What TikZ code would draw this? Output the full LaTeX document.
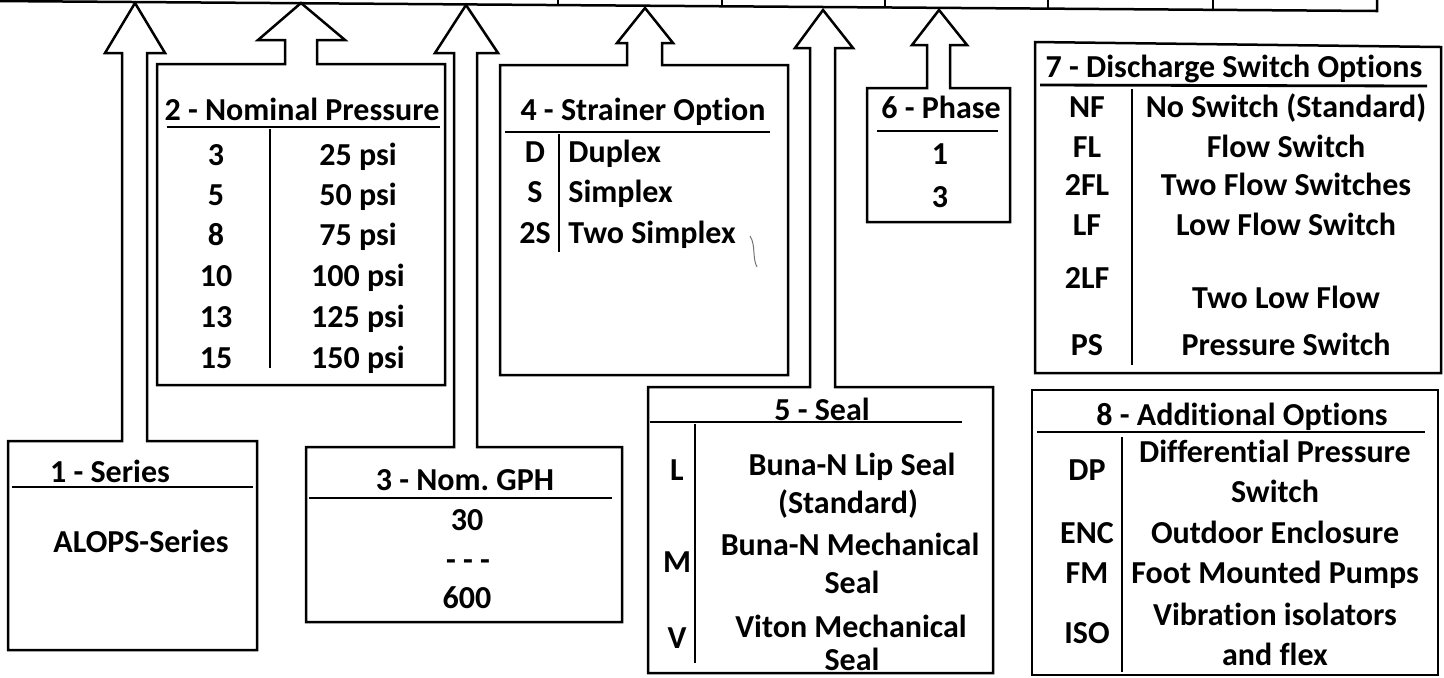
\documentclass[tikz,border=0pt]{standalone}
\usepackage{fontspec}
\setmainfont{Carlito}[Ligatures={NoCommon,NoRare,NoContextual}]
\begin{document}
\begin{tikzpicture}[x=0.5pt,y=-0.5pt,
  frame/.style={line width=1.25pt, line join=miter, draw=black},
  rule/.style={line width=1.4pt, draw=black},
  sep/.style={line width=1.1pt, draw=black},
  lbl/.style={anchor=base, inner sep=0pt, font=\fontsize{16pt}{19pt}\selectfont\bfseries, text=black},
  lblw/.style={lbl, anchor=base west}]
\useasboundingbox (0,0) rectangle (1444,677);
\fill[white] (0,0) rectangle (1444,677);

% top strip (cut-off row of boxes)
\draw[frame] (-5,1) -- (1377,11) -- (1377,-5);
\draw[sep] (558,-5) -- (558,5.05);
\draw[sep] (722,-5) -- (722,6.24);
\draw[sep] (885,-5) -- (885,7.43);
\draw[sep] (1048,-5) -- (1048,8.61);
\draw[sep] (1213,-5) -- (1213,9.81);

% box 1 + arrow 1
\draw[frame] (8,441) -- (122,441) -- (122,53) -- (105,53) -- (135,3) -- (165,53) -- (147,53) -- (147,441) -- (257,441) -- (257,650) -- (8,650) -- cycle;
\draw[rule] (12,487) -- (253,487);
\node[lbl] (s1t) at (110,482) {1 - Series};
\node[lbl] (s1v) at (141,552) {ALOPS-Series};

% box 2 + arrow 2
\draw[frame] (157,64) -- (285,64) -- (285,40) -- (258,40) -- (301,3) -- (345,40) -- (317,40) -- (317,64) -- (445,64) -- (445,385) -- (157,385) -- cycle;
\draw[rule] (167,127) -- (440,127);
\draw[sep] (270,129) -- (270,368);
\node[lbl] (s2t) at (302,120) {2 - Nominal Pressure};
\node[lbl] (s2c1) at (216,165) {3};   \node[lbl] (s2d1) at (358,165) {25 psi};
\node[lbl] (s2c2) at (216,205) {5};   \node[lbl] (s2d2) at (358,205) {50 psi};
\node[lbl] (s2c3) at (216,245) {8};   \node[lbl] (s2d3) at (358,245) {75 psi};
\node[lbl] (s2c4) at (216,286) {10};  \node[lbl] (s2d4) at (358,286) {100 psi};
\node[lbl] (s2c5) at (216,327) {13};  \node[lbl] (s2d5) at (358,327) {125 psi};
\node[lbl] (s2c6) at (216,368) {15};  \node[lbl] (s2d6) at (358,368) {150 psi};

% box 3 + arrow 3
\draw[frame] (306,447) -- (454,447) -- (454,53) -- (435,53) -- (466,5) -- (498,53) -- (477,53) -- (477,447) -- (622,447) -- (622,622) -- (306,622) -- cycle;
\draw[rule] (309,498) -- (612,498);
\node[lbl] (s3t) at (465,490) {3 - Nom.\ GPH};
\node[lbl] (s3a) at (467,530) {30};
\node[lbl] (s3b) at (468,570) {- - -};
\node[lbl] (s3c) at (467,608) {600};

% box 4 + arrow 4
\draw[frame] (500,65) -- (627,65) -- (627,43) -- (617,43) -- (645,8) -- (673,43) -- (662,43) -- (662,65) -- (788,65) -- (788,375) -- (500,375) -- cycle;
\draw[rule] (505,132) -- (770,132);
\draw[sep] (559,134) -- (559,252);
\node[lbl] (s4t) at (643,120) {4 - Strainer Option};
\node[lbl] (s4c1) at (535,162) {D};  \node[lblw] (s4d1) at (568,162) {Duplex};
\node[lbl] (s4c2) at (535,202) {S};  \node[lblw] (s4d2) at (568,202) {Simplex};
\node[lbl] (s4c3) at (535,243) {2S}; \node[lblw] (s4d3) at (568,243) {Two Simplex};
\draw[line width=0.5pt, black!55] (750,236) .. controls (756,245) and (752,258) .. (757,267);

% box 5 + arrow 5
\draw[frame] (648,387) -- (810,387) -- (810,48) -- (795,48) -- (823,10) -- (853,48) -- (835,48) -- (835,387) -- (993,387) -- (993,673) -- (648,673) -- cycle;
\draw[rule] (650,422) -- (962,422);
\draw[sep] (695,424) -- (695,663);
\node[lbl] (s5t) at (822,420) {5 - Seal};
\node[lbl] (s5c1) at (677,480) {L};
\node[lbl] (s5c2) at (677,572) {M};
\node[lbl] (s5c3) at (677,648) {V};
\node[lbl] (s5d1) at (852,475) {Buna-N Lip Seal};
\node[lbl] (s5d2) at (848,513) {(Standard)};
\node[lbl] (s5d3) at (850,555) {Buna-N Mechanical};
\node[lbl] (s5d4) at (852,593) {Seal};
\node[lbl] (s5d5) at (851,637) {Viton Mechanical};
\node[lbl] (s5d6) at (852,670) {Seal};

% box 6 + arrow 6
\draw[frame] (867,88) -- (927,88) -- (927,45) -- (912,45) -- (939,10) -- (967,45) -- (950,45) -- (950,88) -- (1010,88) -- (1010,222) -- (867,222) -- cycle;
\draw[rule] (877,131) -- (998,131);
\node[lbl] (s6t) at (941,118) {6 - Phase};
\node[lbl] (s6a) at (940,164) {1};
\node[lbl] (s6b) at (940,207) {3};

% box 7
\draw[frame] (1035,42) -- (1441,47) -- (1441,373) -- (1035,373) -- cycle;
\draw[rule] (1040,85) -- (1427,86);
\draw[sep] (1132,89) -- (1132,365);
\node[lbl] (s7t) at (1234,77) {7 - Discharge Switch Options};
\node[lbl] (s7c1) at (1087,117) {NF};  \node[lbl] (s7d1) at (1286,117) {No Switch (Standard)};
\node[lbl] (s7c2) at (1087,157) {FL};  \node[lbl] (s7d2) at (1286,157) {Flow Switch};
\node[lbl] (s7c3) at (1087,195) {2FL}; \node[lbl] (s7d3) at (1286,195) {Two Flow Switches};
\node[lbl] (s7c4) at (1087,235) {LF};  \node[lbl] (s7d4) at (1286,235) {Low Flow Switch};
\node[lbl] (s7c5) at (1087,288) {2LF}; \node[lbl] (s7d5) at (1286,308) {Two Low Flow};
\node[lbl] (s7c6) at (1087,355) {PS};  \node[lbl] (s7d6) at (1286,355) {Pressure Switch};

% box 8
\draw[frame] (1032,390) rectangle (1438,675);
\draw[rule] (1037,432) -- (1425,432);
\draw[sep] (1122,437) -- (1122,672);
\node[lbl] (s8t) at (1242,425) {8 - Additional Options};
\node[lbl] (s8c1) at (1087,480) {DP};
\node[lbl] (s8c2) at (1087,543) {ENC};
\node[lbl] (s8c3) at (1087,583) {FM};
\node[lbl] (s8c4) at (1087,643) {ISO};
\node[lbl] (s8d1) at (1275,462) {Differential Pressure};
\node[lbl] (s8d2) at (1275,502) {Switch};
\node[lbl] (s8d3) at (1275,543) {Outdoor Enclosure};
\node[lbl] (s8d4) at (1275,583) {Foot Mounted Pumps};
\node[lbl] (s8d5) at (1275,625) {Vibration isolators};
\node[lbl] (s8d6) at (1275,665) {and flex};
\end{tikzpicture}
\end{document}
